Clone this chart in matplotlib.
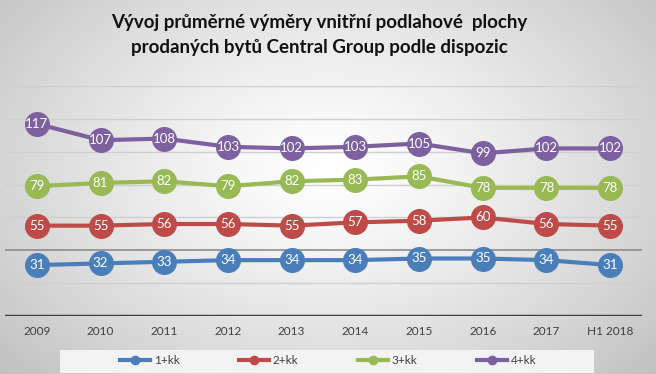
import numpy as np
import matplotlib
matplotlib.use("Agg")
import matplotlib.pyplot as plt
from matplotlib.lines import Line2D
from matplotlib.patches import Rectangle

categories = ["2009", "2010", "2011", "2012", "2013", "2014", "2015", "2016", "2017", "H1 2018"]
s1 = [31, 32, 33, 34, 34, 34, 35, 35, 34, 31]
s2 = [55, 55, 56, 56, 55, 57, 58, 60, 56, 55]
s3 = [79, 81, 82, 79, 82, 83, 85, 78, 78, 78]
s4 = [117, 107, 108, 103, 102, 103, 105, 99, 102, 102]
series_names = ["1+kk", "2+kk", "3+kk", "4+kk"]
series = [s1, s2, s3, s4]
colors = ["#4A7EBB", "#BE4B48", "#98B954", "#7D60A0"]
title = "Vývoj průměrné výměry vnitřní podlahové  plochy\nprodaných bytů Central Group podle dispozic"

plt.rcParams['font.family'] = ['Lato', 'DejaVu Sans']

W, H = 656, 374
fig = plt.figure(figsize=(W / 100, H / 100), dpi=100)

# background radial gradient
bg = fig.add_axes([0, 0, 1, 1], zorder=-10)
yy, xx = np.mgrid[0:H, 0:W]
d = np.sqrt(((xx - W * 0.5) / (W * 0.75)) ** 2 + ((yy - H * 0.45) / (H * 0.9)) ** 2)
v = np.clip(1.0 - 0.28 * d ** 1.3, 0, 1)
img = np.dstack([v, v, v])
bg.imshow(img, aspect='auto', extent=[0, 1, 0, 1])
bg.set_xlim(0, 1)
bg.set_ylim(0, 1)
bg.set_axis_off()
bg.add_patch(Rectangle((60 / W, 1 - 373 / H), (594 - 60) / W, 23 / H,
                       facecolor='#f3f3f3', edgecolor='none', zorder=2))

ax = fig.add_axes([5 / W, (H - 316) / H, (642 - 5) / W, (316 - 86) / H])
ax.patch.set_alpha(0)
x = np.arange(len(categories))
ax.set_xlim(-0.5, len(categories) - 0.5)
ax.set_ylim(0, 140)

for yv in range(20, 141, 20):
    c = "#8c8c8c" if yv == 40 else "#cfcfcf"
    ax.axhline(yv, color=c, lw=1.2 if yv == 40 else 1.0, zorder=1)
ax.axhline(0, color="#404040", lw=2.5, zorder=2)

for vals, col in zip(series, colors):
    ax.plot(x, vals, color=col, lw=3, marker='o', ms=17, mfc=col, mec=col, zorder=3, solid_capstyle='round')
    for xi, v_ in zip(x, vals):
        ax.text(xi, v_, str(v_), ha='center', va='center', color='white', fontsize=9.5, zorder=4)

for s in ax.spines.values():
    s.set_visible(False)
ax.set_yticks([])
ax.set_xticks(x)
ax.set_xticklabels(categories, fontsize=8.5, color="#404040")
ax.tick_params(axis='x', length=0, pad=7)

fig.text(0.487, 1 - 35 / H, title, ha='center', va='center', fontsize=13.5, fontweight='bold',
         color='#111111', linespacing=1.6)

handles = [Line2D([0], [0], color=c, lw=3, marker='o', ms=6) for c in colors]
leg = fig.legend(handles, series_names, loc='center', bbox_to_anchor=(328 / W, 1 - 361 / H),
                 ncol=4, frameon=False, fontsize=8.5, handlelength=2.6, columnspacing=5.0,
                 handletextpad=0.3)
for t in leg.get_texts():
    t.set_color('#404040')

fig.savefig("out.png", dpi=100)
